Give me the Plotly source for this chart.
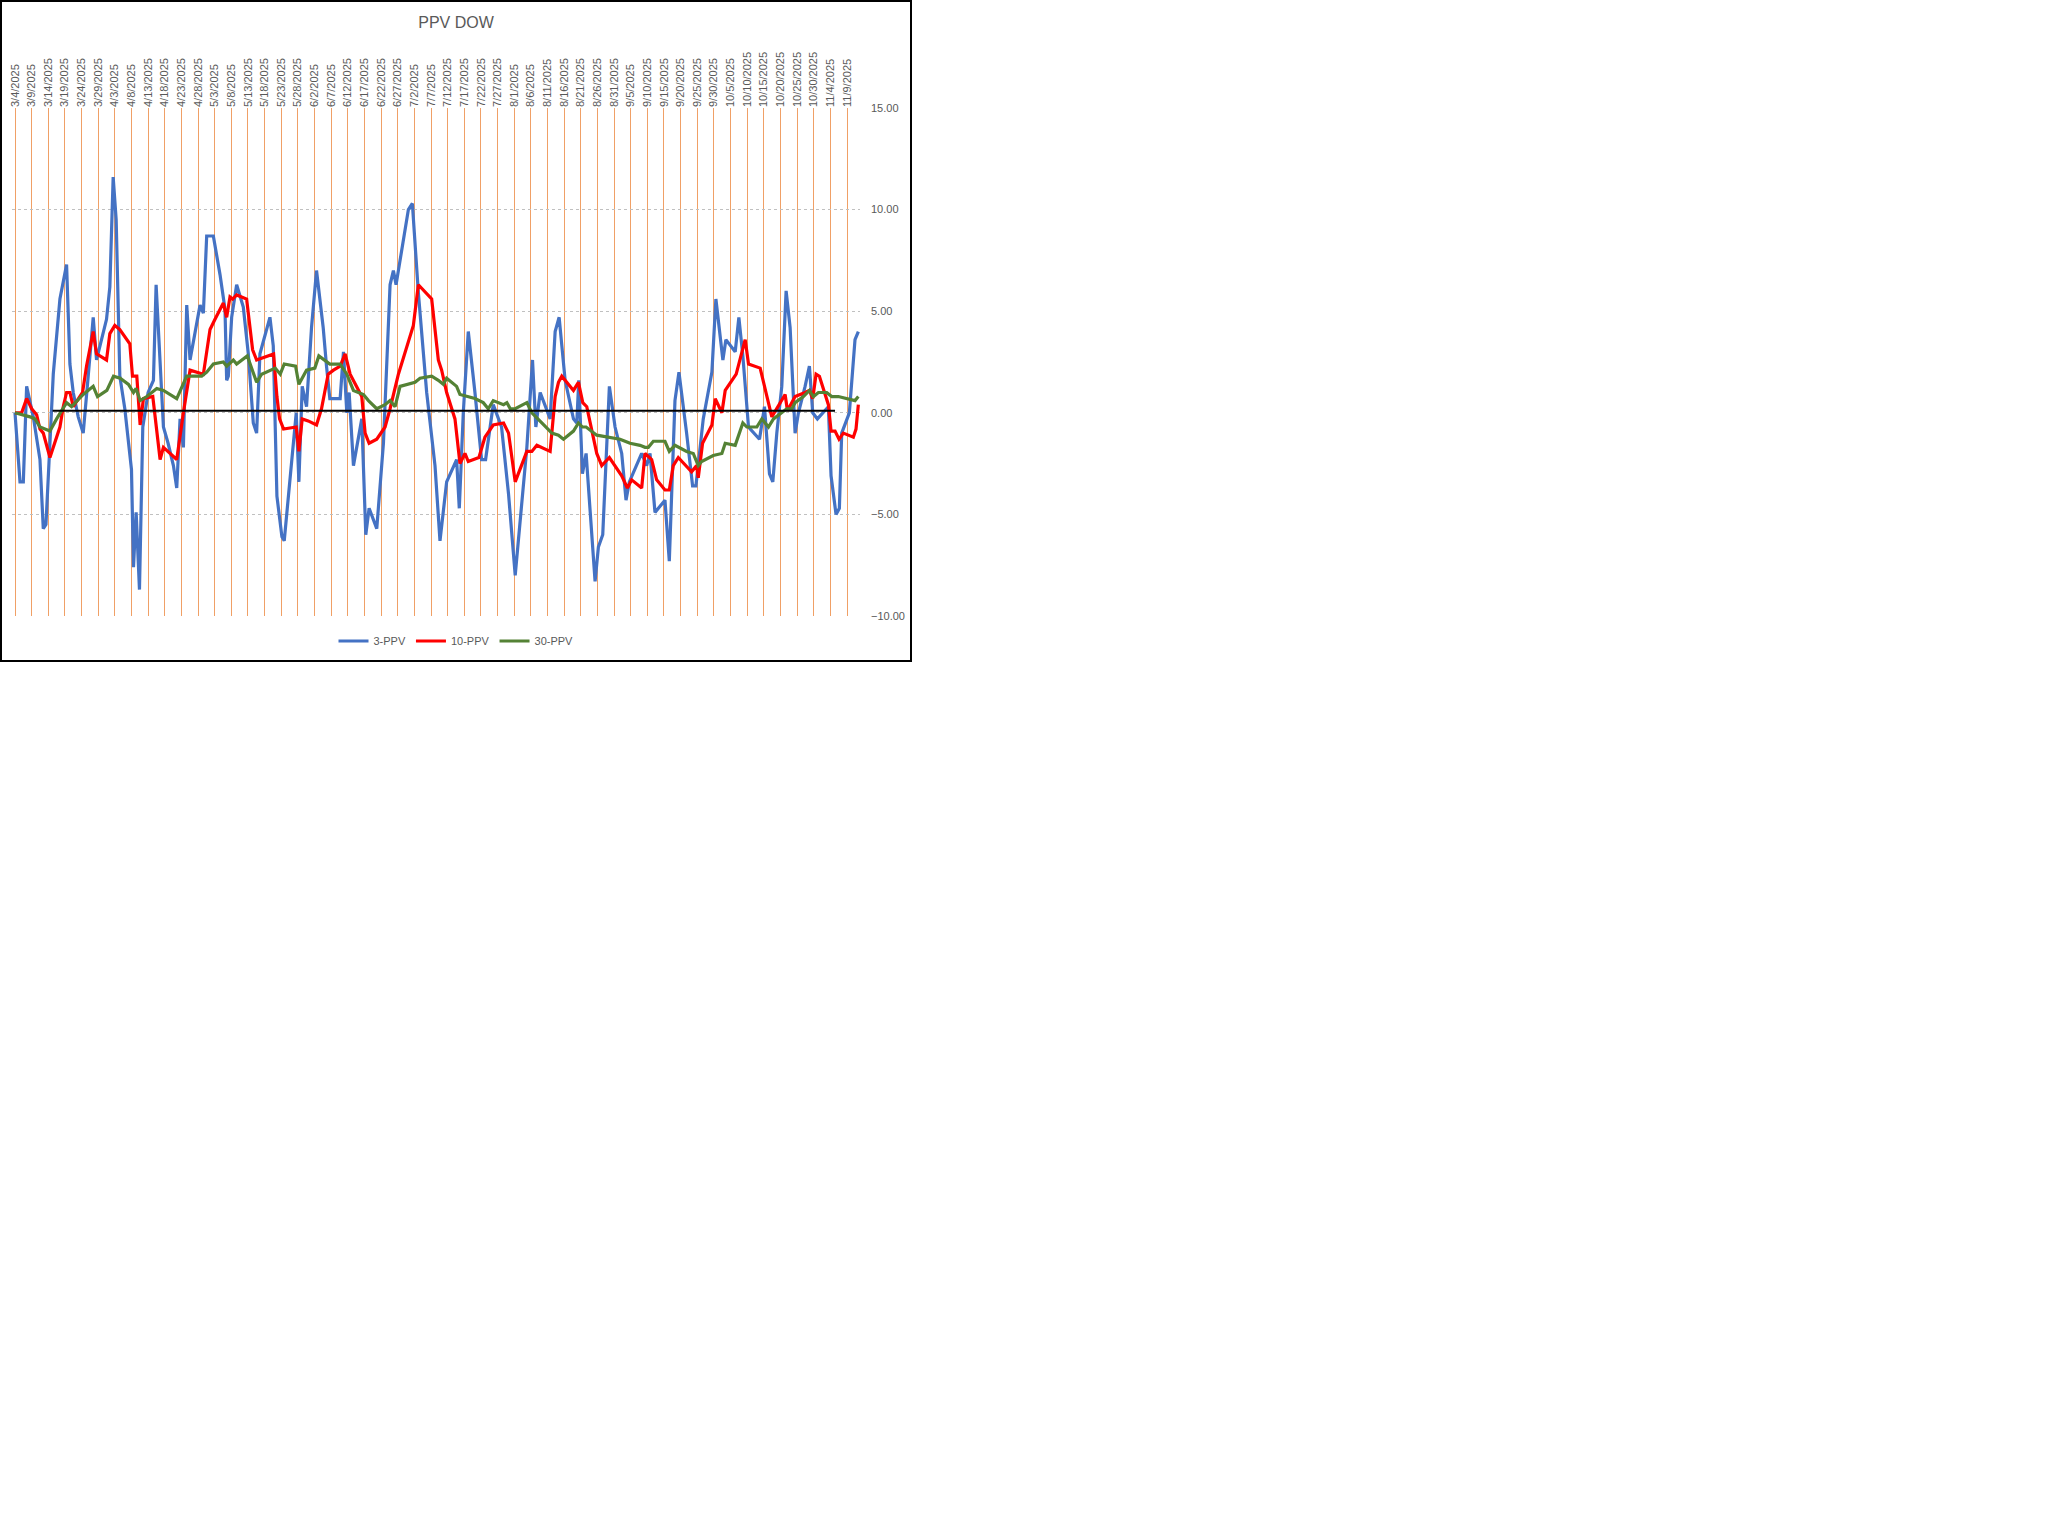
import pandas as pd
import plotly.graph_objects as go

# ── data (day offsets from 3/4/2025, PPV values) ──
START = pd.Timestamp("2025-03-04")

tick_labels = [
    "3/4/2025", "3/9/2025", "3/14/2025", "3/19/2025", "3/24/2025", "3/29/2025",
    "4/3/2025", "4/8/2025", "4/13/2025", "4/18/2025", "4/23/2025", "4/28/2025",
    "5/3/2025", "5/8/2025", "5/13/2025", "5/18/2025", "5/23/2025", "5/28/2025",
    "6/2/2025", "6/7/2025", "6/12/2025", "6/17/2025", "6/22/2025", "6/27/2025",
    "7/2/2025", "7/7/2025", "7/12/2025", "7/17/2025", "7/22/2025", "7/27/2025",
    "8/1/2025", "8/6/2025", "8/11/2025", "8/16/2025", "8/21/2025", "8/26/2025",
    "8/31/2025", "9/5/2025", "9/10/2025", "9/15/2025", "9/20/2025", "9/25/2025",
    "9/30/2025", "10/5/2025", "10/10/2025", "10/15/2025", "10/20/2025",
    "10/25/2025", "10/30/2025", "11/4/2025", "11/9/2025",
]

ppv3_days = [
    0, 1.5, 2.5, 3.5, 5.5, 7.5, 8.5, 9.3, 10.5, 11.5, 13.5, 14.5, 15.5, 16.5,
    17.5, 19, 20.5, 22, 23.5, 24.5, 27.5, 28.5, 29.5, 30.4, 31.5, 33, 35, 35.6,
    36.4, 37.4, 38.4, 40, 41.6, 42.4, 44.6, 46, 47.6, 48.6, 49.6, 50.6, 51.6,
    52.6, 54.1, 55.6, 56.6, 57.6, 59.6, 61.6, 63.1, 63.6, 64.1, 65.1, 66.6,
    68.6, 70.1, 71.6, 72.6, 73.6, 76.6, 77.6, 78.7, 80.2, 80.9, 84.5, 85.3,
    86.3, 87.6, 89.1, 90.6, 92.6, 93.6, 94.6, 97.7, 98.7, 99.7, 100.4, 101.7,
    104.2, 105.4, 106.4, 108.7, 110.7, 112.7, 113.7, 114.5, 118.2, 119.4,
    121.2, 123.7, 126.2, 127.7, 129.7, 132.7, 133.5, 134.7, 136.2, 138.2,
    140.2, 141.4, 143.7, 146.2, 148.3, 150.3, 153.8, 155.5, 156.5, 157.8,
    160.8, 162.3, 163.5, 165.3, 167.8, 168.8, 169.4, 170.5, 171.6, 174.3,
    175.3, 176.6, 178.6, 180.3, 182.3, 183.6, 184.6, 188.3, 189.8, 190.8,
    192.3, 195.3, 196.6, 198.3, 199.5, 201.8, 203.6, 204.6, 206.8, 209.4,
    210.6, 212.7, 213.6, 216.4, 217.5, 218.7, 220.4, 223.7, 225.2, 226.7,
    227.7, 228.9, 230.4, 231.7, 232.9, 234.4, 235.4, 237.4, 238.7, 239.7,
    241.1, 244.4, 245.2, 246.7, 247.7, 248.4, 250.7, 252.4, 253.4,
]
ppv3_vals = [
    0.0, -3.4, -3.4, 1.3, -0.2, -2.3, -5.7, -5.5, -1.5, 1.9, 5.6, 6.5, 7.3, 2.4,
    1.0, -0.2, -1.0, 1.8, 4.7, 2.6, 4.6, 6.2, 11.6, 9.5, 1.8, 0.2, -2.8, -7.6,
    -4.9, -8.7, -0.7, 1.0, 1.6, 6.3, -0.7, -1.5, -2.6, -3.7, -0.3, -1.7, 5.3,
    2.6, 3.9, 5.3, 4.9, 8.7, 8.7, 6.8, 5.1, 1.6, 1.8, 4.7, 6.3,
    5.2, 2.9, -0.5, -1.0, 2.9, 4.7, 3.3, -4.1, -6.1, -6.3, 0.0, -3.4,
    1.3, 0.3, 4.2, 7.0, 4.2, 2.3, 0.7, 0.7, 3.0, 0.0, 1.0, -2.6,
    -0.3, -6.0, -4.7, -5.7, -1.5, 6.3, 7.0, 6.3, 10.0, 10.3,
    5.9, 1.0, -2.6, -6.3, -3.4, -2.3, -4.7, 0.0, 4.0, 1.0,
    -2.3, -2.3, 0.4, -0.7, -4.0, -8.0, -1.7, 2.6, -0.7, 1.0,
    -0.3, 4.0, 4.7, 1.6, -0.3, -0.5, 1.6, -3.0, -2.0, -8.3,
    -6.6, -6.0, 1.3, -0.7, -2.0, -4.3, -3.4, -2.0, -2.6, -2.0,
    -4.9, -4.3, -7.3, 0.6, 2.0, -1.0, -3.6, -3.6, -0.3, 2.0,
    5.6, 2.6, 3.6, 3.0, 4.7, 2.8, -0.7, -1.3, 0.3, -3.0,
    -3.4, -1.0, 1.3, 6.0, 4.2, -1.0, 0.0, 1.3, 2.3, 0.0,
    -0.3, 0.3, -3.1, -5.0, -4.7, -1.0, 0.0, 3.6, 4.0,
]

ppv10_days = [
    0, 2, 3.5, 5, 6.5, 7.5, 8.5, 10.5, 13.5, 14.5, 15.5, 16.5, 17.5, 20.3,
    21.5, 23.5, 24.5, 27.5, 28.5, 30, 31.5, 34.5, 35.3, 36.6, 37.6, 38.6,
    41.4, 43.6, 44.6, 48.6, 50.6, 51.6, 52.6, 56.6, 57.6, 58.6, 60.1, 62.6,
    63.6, 64.6, 65.4, 66.6, 69.6, 71.4, 72.6, 77.7, 78.7, 79.5, 80.7, 84.5,
    85.3, 86.3, 88.1, 90.6, 92.1, 94.1, 95.7, 97.7, 99.2, 100.7, 104.2,
    105.2, 106.4, 108.7, 111.2, 112.7, 115.2, 118.2, 119.7, 121.2, 125.2,
    127.2, 128.2, 129.7, 132.2, 133.7, 135.2, 136.2, 139.4, 141.2, 143.7,
    146.8, 148.3, 150.3, 153.8, 155.3, 156.8, 160.8, 162.3, 163.3, 164.3,
    167.8, 169.3, 170.6, 171.8, 174.8, 176.3, 178.6, 182.3, 184.0, 185.3,
    188.3, 189.3, 191.3, 192.8, 195.3, 196.6, 197.8, 199.3, 203.3, 204.8,
    205.3, 206.6, 209.4, 210.4, 212.4, 213.4, 216.7, 219.4, 220.4, 223.9,
    227.4, 228.9, 231.4, 232.1, 234.4, 237.4, 238.7, 239.7, 240.7, 241.7,
    244.4, 245.2, 246.4, 247.6, 248.9, 251.9, 252.7, 253.4,
]
ppv10_vals = [
    0.0, 0.0, 0.7, 0.2, -0.1, -0.8, -1.0, -2.2, -0.7, 0.3, 1.0, 1.0, 0.3, 1.0,
    2.3, 4.0, 2.9, 2.6, 3.9, 4.3, 4.1, 3.4, 1.8, 1.8, -0.6, 0.7,
    0.8, -2.3, -1.7, -2.3, 0.0, 1.0, 2.1, 1.9, 2.9, 4.1, 4.6, 5.4,
    4.7, 5.7, 5.6, 5.8, 5.6, 3.1, 2.6, 2.9, 0.8, -0.3, -0.8, -0.7,
    -1.9, -0.3, -0.4, -0.6, 0.2, 1.9, 2.1, 2.3, 2.9, 1.9, 0.8,
    -1.0, -1.5, -1.3, -0.7, 0.2, 1.9, 3.5, 4.3, 6.3, 5.6,
    2.6, 2.1, 1.0, -0.3, -2.5, -2.0, -2.4, -2.2, -1.2, -0.6,
    -0.5, -1.0, -3.4, -1.9, -1.9, -1.6, -1.9, 0.8, 1.5, 1.8,
    1.1, 1.5, 0.5, 0.3, -2.0, -2.6, -2.2, -3.1, -3.7, -3.3,
    -3.7, -2.0, -2.3, -3.3, -3.8, -3.8, -2.6, -2.2, -2.9, -2.6,
    -3.2, -1.5, -0.6, 0.7, 0.0, 1.1, 1.9, 3.6, 2.4, 2.2,
    -0.2, 0.2, 0.9, 0.1, 0.8, 1.0, 1.1, 0.7, 1.9, 1.8,
    0.4, -0.9, -0.9, -1.3, -1.0, -1.2, -0.8, 0.4,
]

ppv30_days = [
    0, 2.5, 4.5, 6, 7.5, 10.5, 12.5, 15.5, 17, 20.5, 23.5, 24.8, 27.6, 29.6,
    31.6, 34.1, 35.6, 36.4, 37.6, 39.6, 42.6, 44.6, 48.6, 51.6, 56.1, 57.6,
    59.6, 62.6, 63.6, 65.6, 66.6, 69.8, 72.6, 74.1, 78.2, 79.7, 80.9, 84.3,
    85.3, 87.6, 90.1, 91.3, 94.6, 97.7, 99.7, 101.7, 104.7, 106.2, 108.7,
    111.2, 112.7, 114.2, 115.7, 120.2, 121.7, 125.2, 127.2, 128.7, 129.7,
    132.7, 133.7, 138.2, 140.7, 142.2, 143.7, 146.8, 147.8, 148.8, 150.3,
    153.8, 155.3, 158.3, 161.3, 163.3, 164.8, 167.8, 169.3, 170.5, 171.6,
    174.8, 178.3, 181.8, 183.3, 184.8, 187.8, 189.3, 190.3, 191.8, 195.3,
    196.6, 198.3, 201.8, 203.8, 205.3, 206.3, 209.8, 212.4, 213.4, 216.4,
    218.7, 219.9, 222.9, 224.4, 226.4, 227.9, 231.9, 233.4, 234.4, 236.9,
    238.7, 239.9, 241.4, 243.9, 245.4, 247.4, 249.9, 252.4, 253.4,
]
ppv30_vals = [
    0.0, -0.1, -0.2, -0.3, -0.7, -0.9, -0.3, 0.5, 0.3, 0.9, 1.3, 0.8, 1.1, 1.8,
    1.7, 1.4, 1.0, 1.2, 0.6, 0.8, 1.2, 1.1, 0.7, 1.8, 1.8, 2.0,
    2.4, 2.5, 2.3, 2.6, 2.4, 2.8, 1.5, 1.9, 2.2, 1.9, 2.4, 2.3,
    1.4, 2.1, 2.2, 2.8, 2.4, 2.4, 1.9, 1.1, 0.9, 0.6, 0.2,
    0.4, 0.6, 0.3, 1.3, 1.5, 1.7, 1.8, 1.6, 1.4, 1.7,
    1.3, 0.9, 0.7, 0.5, 0.2, 0.6, 0.4, 0.5, 0.2, 0.2,
    0.5, 0.0, -0.5, -1.0, -1.1, -1.3, -0.9, -0.5, -0.7, -0.7,
    -1.1, -1.2, -1.3, -1.4, -1.5, -1.6, -1.7, -1.7, -1.4, -1.4,
    -1.9, -1.6, -1.9, -2.0, -2.6, -2.4, -2.1, -2.0, -1.5, -1.6,
    -0.5, -0.7, -0.7, -0.3, -0.7, -0.3, 0.2, 0.2, 0.5, 0.8,
    1.1, 0.8, 1.0, 1.0, 0.8, 0.8, 0.7, 0.6, 0.8,
]

base_days = [11.3, 246.4]
base_vals = [0.1, 0.1]


def to_dates(days):
    return START + pd.to_timedelta(days, unit="D")


# ── chart ───────────────────────────────────────────────────────────
W, H = 912, 662
L, R, T, B = 12, 52, 108, 46
pw, ph = W - L - R, H - T - B
TXT = "#595959"
FONT = "Liberation Sans, Arial"

fig = go.Figure()
for name, days, vals, color in [
    ("3-PPV", ppv3_days, ppv3_vals, "#4472C4"),
    ("10-PPV", ppv10_days, ppv10_vals, "#FF0000"),
    ("30-PPV", ppv30_days, ppv30_vals, "#548235"),
]:
    fig.add_trace(
        go.Scatter(
            x=to_dates(days), y=vals, name=name, mode="lines",
            line={"color": color, "width": 3.2},
        )
    )

fig.add_trace(
    go.Scatter(
        x=to_dates(base_days), y=base_vals, mode="lines",
        line={"color": "black", "width": 2}, showlegend=False, hoverinfo="skip",
    )
)

tickvals = pd.to_datetime(tick_labels, format="%m/%d/%Y")

fig.update_xaxes(
    type="date",
    range=[START - pd.Timedelta(days=0.9), START + pd.Timedelta(days=253.9)],
    side="top",
    tickvals=tickvals,
    ticktext=tick_labels,
    tickangle=-90,
    tickfont={"family": FONT, "size": 11, "color": TXT},
    showgrid=True,
    gridcolor="#F0A066",
    gridwidth=1,
    showline=False,
    zeroline=False,
    ticks="",
    automargin=False,
)
fig.update_yaxes(
    range=[-10, 15],
    dtick=5,
    tickformat=".2f",
    side="right",
    showgrid=True,
    gridcolor="#C0C0C0",
    griddash="dot",
    gridwidth=1,
    zeroline=False,
    showline=False,
    ticks="",
    ticklabelstandoff=10,
    tickfont={"family": FONT, "size": 11, "color": TXT},
    automargin=False,
)

fig.add_shape(
    type="rect", xref="paper", yref="paper",
    x0=(1 - L) / pw, x1=(W - 1 - L) / pw,
    y0=-(B - 1) / ph, y1=1 + (T - 1) / ph,
    line={"color": "black", "width": 2},
)

fig.update_layout(
    width=W,
    height=H,
    autosize=False,
    margin={"l": L, "r": R, "t": T, "b": B, "autoexpand": False},
    plot_bgcolor="white",
    paper_bgcolor="white",
    title={
        "text": "PPV DOW",
        "x": 0.5, "xref": "container", "xanchor": "center",
        "y": 1 - 22 / H, "yref": "container", "yanchor": "middle",
        "font": {"family": FONT, "size": 16, "color": TXT},
    },
    legend={
        "orientation": "h",
        "x": 0.5, "xref": "container", "xanchor": "center",
        "y": 1 - 641 / H, "yref": "container", "yanchor": "middle",
        "font": {"family": FONT, "size": 11, "color": TXT},
        "bgcolor": "rgba(0,0,0,0)",
        "itemwidth": 30,
    },
    showlegend=True,
)

fig.write_html(
    "out.html",
    config={"displayModeBar": False},
    post_script="document.body.style.margin='0';document.body.style.padding='0';",
)
